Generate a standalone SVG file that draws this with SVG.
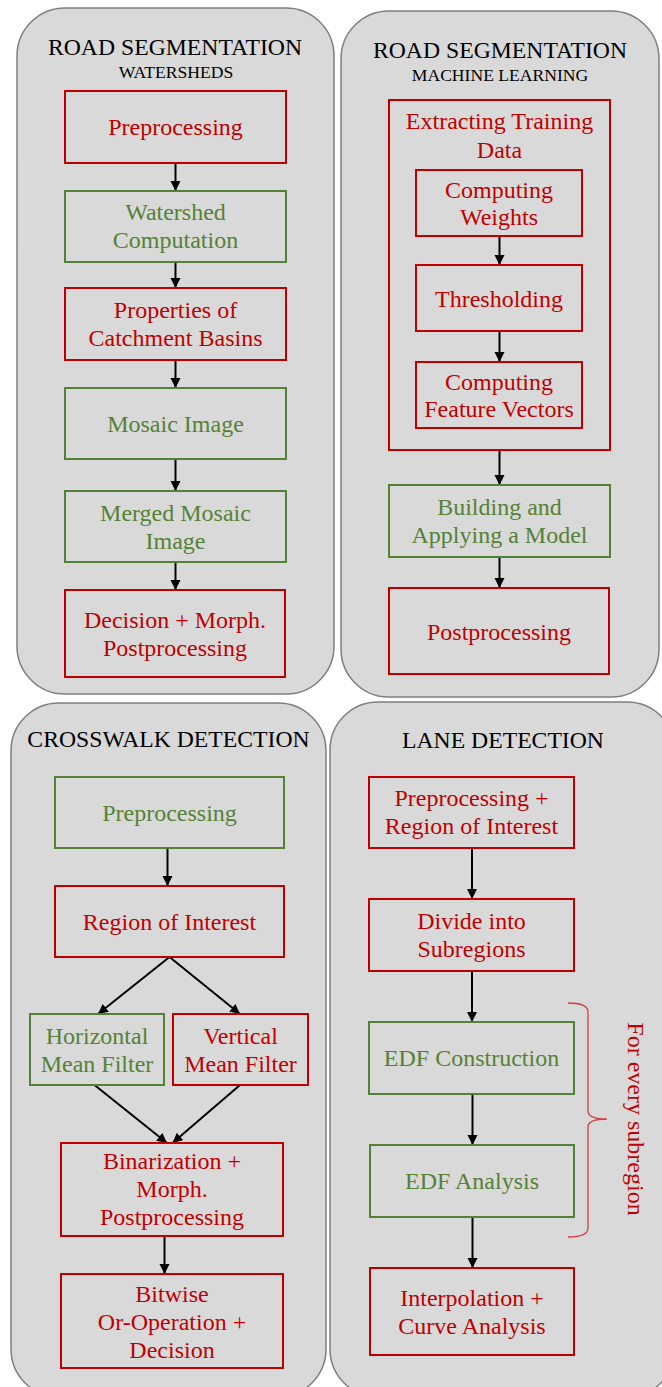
<svg xmlns="http://www.w3.org/2000/svg" width="662" height="1387" viewBox="0 0 662 1387">
<defs>
<marker id="ah" markerUnits="userSpaceOnUse" markerWidth="11" markerHeight="11" refX="10" refY="5" orient="auto">
<path d="M0,0 L10,5 L0,10 Z" fill="#000"/>
</marker>
<style>
.panel{fill:#d9d9d9;stroke:#7f7f7f;stroke-width:1.5}
.r{fill:none;stroke:#c00000;stroke-width:2}
.g{fill:none;stroke:#548235;stroke-width:2}
text{font-family:"Liberation Serif","Times New Roman",serif}
.t{font-size:23.7px;fill:#000;text-anchor:middle}
.st{font-size:17.6px;fill:#000;text-anchor:middle}
.tr{font-size:24px;fill:#c00000;text-anchor:middle}
.tg{font-size:24px;fill:#548235;text-anchor:middle}
.c{fill:none;stroke:#000;stroke-width:2;marker-end:url(#ah)}
</style>
</defs>
<g id="panels">
<rect id="panel-watersheds" class="panel" x="17" y="8" width="317" height="686" rx="48" ry="48"/>
<rect id="panel-ml" class="panel" x="341" y="11" width="318" height="686" rx="48" ry="48"/>
<rect id="panel-crosswalk" class="panel" x="11" y="703" width="315" height="694" rx="48" ry="48"/>
<rect id="panel-lane" class="panel" x="330" y="702" width="345" height="695" rx="48" ry="48"/>
</g>
<g id="titles">
<text class="t" x="175" y="55">ROAD SEGMENTATION</text>
<text class="st" x="176" y="78">WATERSHEDS</text>
<text class="t" x="500" y="58">ROAD SEGMENTATION</text>
<text class="st" x="500" y="81">MACHINE LEARNING</text>
<text class="t" x="168.5" y="747">CROSSWALK DETECTION</text>
<text class="t" x="503" y="748">LANE DETECTION</text>
</g>
<g id="connectors">
<path class="c" d="M175.5,163 V191"/>
<path class="c" d="M175.5,262 V288"/>
<path class="c" d="M175.5,360 V388"/>
<path class="c" d="M175.5,459 V491"/>
<path class="c" d="M175.5,562 V590"/>
<path class="c" d="M499.5,236 V265"/>
<path class="c" d="M499.5,331 V362"/>
<path class="c" d="M499.5,450 V485"/>
<path class="c" d="M499.5,557 V588"/>
<path class="c" d="M167.5,848 V886"/>
<path class="c" d="M169.5,957 L98,1014"/>
<path class="c" d="M169.5,957 L240,1014"/>
<path class="c" d="M94.5,1085 L167,1143"/>
<path class="c" d="M240,1085 L172.5,1143"/>
<path class="c" d="M164.5,1236 V1274"/>
<path class="c" d="M472,848 V899"/>
<path class="c" d="M472,971 V1022"/>
<path class="c" d="M472.5,1094 V1145"/>
<path class="c" d="M472.5,1217 V1268"/>
</g>
<g id="n-ws-pre"><rect class="r" x="65" y="91" width="221" height="72"/><text class="tr" x="175.5" y="135">Preprocessing</text></g>
<g id="n-ws-comp"><rect class="g" x="65" y="191" width="221" height="71"/><text class="tg" x="175.5" y="220">Watershed</text><text class="tg" x="175.5" y="248">Computation</text></g>
<g id="n-ws-props"><rect class="r" x="65" y="288" width="221" height="72"/><text class="tr" x="175.5" y="318">Properties of</text><text class="tr" x="175.5" y="346">Catchment Basins</text></g>
<g id="n-ws-mosaic"><rect class="g" x="65" y="388" width="221" height="71"/><text class="tg" x="175.5" y="431.5">Mosaic Image</text></g>
<g id="n-ws-merged"><rect class="g" x="65" y="491" width="221" height="71"/><text class="tg" x="175.5" y="520.5">Merged Mosaic</text><text class="tg" x="175.5" y="548.5">Image</text></g>
<g id="n-ws-decision"><rect class="r" x="65" y="590" width="220" height="87"/><text class="tr" x="175" y="627.5">Decision + Morph.</text><text class="tr" x="175" y="655.5">Postprocessing</text></g>
<g id="n-ml-extract"><rect class="r" x="389" y="100" width="221" height="350"/><text class="tr" x="499.5" y="129">Extracting Training</text><text class="tr" x="499.5" y="157.5">Data</text></g>
<g id="n-ml-weights"><rect class="r" x="416" y="170" width="166" height="66"/><text class="tr" x="499" y="197.5">Computing</text><text class="tr" x="499" y="224.5">Weights</text></g>
<g id="n-ml-thresh"><rect class="r" x="416" y="265" width="166" height="66"/><text class="tr" x="499" y="306.5">Thresholding</text></g>
<g id="n-ml-features"><rect class="r" x="416" y="362" width="166" height="66"/><text class="tr" x="499" y="389.5">Computing</text><text class="tr" x="499" y="416.5">Feature Vectors</text></g>
<g id="n-ml-model"><rect class="g" x="389" y="485" width="221" height="72"/><text class="tg" x="499.5" y="514.5">Building and</text><text class="tg" x="499.5" y="542.5">Applying a Model</text></g>
<g id="n-ml-post"><rect class="r" x="389" y="588" width="220" height="86"/><text class="tr" x="499" y="639.5">Postprocessing</text></g>
<g id="n-cw-pre"><rect class="g" x="55" y="777" width="229" height="71"/><text class="tg" x="169.5" y="820.5">Preprocessing</text></g>
<g id="n-cw-roi"><rect class="r" x="55" y="886" width="229" height="71"/><text class="tr" x="169.5" y="929.5">Region of Interest</text></g>
<g id="n-cw-hmf"><rect class="g" x="30" y="1014" width="134" height="71"/><text class="tg" x="97" y="1043.5">Horizontal</text><text class="tg" x="97" y="1071.5">Mean Filter</text></g>
<g id="n-cw-vmf"><rect class="r" x="173" y="1014" width="135" height="71"/><text class="tr" x="240.5" y="1043.5">Vertical</text><text class="tr" x="240.5" y="1071.5">Mean Filter</text></g>
<g id="n-cw-bin"><rect class="r" x="61" y="1143" width="222" height="93"/><text class="tr" x="172" y="1169">Binarization +</text><text class="tr" x="172" y="1197">Morph.</text><text class="tr" x="172" y="1225">Postprocessing</text></g>
<g id="n-cw-or"><rect class="r" x="61" y="1274" width="222" height="94"/><text class="tr" x="172" y="1301.5">Bitwise</text><text class="tr" x="172" y="1329.5">Or-Operation +</text><text class="tr" x="172" y="1357.5">Decision</text></g>
<g id="n-ln-pre"><rect class="r" x="369" y="777" width="205" height="71"/><text class="tr" x="471.5" y="806">Preprocessing +</text><text class="tr" x="471.5" y="834">Region of Interest</text></g>
<g id="n-ln-divide"><rect class="r" x="369" y="899" width="205" height="72"/><text class="tr" x="471.5" y="929">Divide into</text><text class="tr" x="471.5" y="957">Subregions</text></g>
<g id="n-ln-edfc"><rect class="g" x="369" y="1022" width="205" height="72"/><text class="tg" x="471.5" y="1066">EDF Construction</text></g>
<g id="n-ln-edfa"><rect class="g" x="370" y="1145" width="204" height="72"/><text class="tg" x="472" y="1189">EDF Analysis</text></g>
<g id="n-ln-interp"><rect class="r" x="370" y="1268" width="204" height="87"/><text class="tr" x="472" y="1305.5">Interpolation +</text><text class="tr" x="472" y="1333.5">Curve Analysis</text></g>
<g id="brace">
<path d="M568,1003 Q588,1003 588,1012 L588,1111 Q588,1119 607,1119 Q588,1119 588,1127 L588,1228 Q588,1237 568,1237" fill="none" stroke="#d04040" stroke-width="1.3"/>
<text class="tr" x="628" y="1119" transform="rotate(90 628 1119)">For every subregion</text>
</g>
</svg>
